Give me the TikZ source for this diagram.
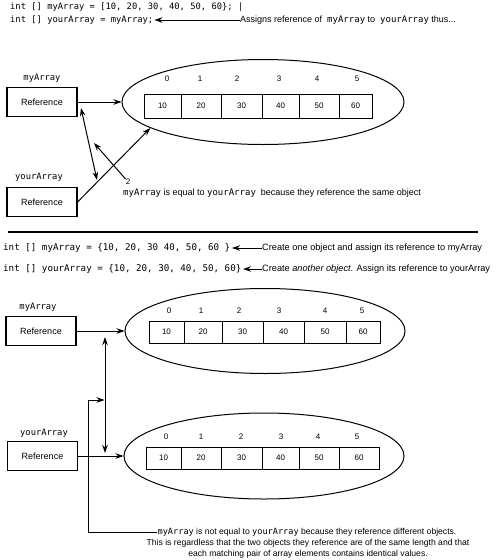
\documentclass[tikz,border=0pt]{standalone}
\usepackage{fontspec}
\setmainfont{Liberation Sans}
\setmonofont{DejaVu Sans Mono}
\usetikzlibrary{arrows.meta,shapes.geometric}
\begin{document}
\begin{tikzpicture}[x=1pt,y=-1pt,
  txt/.style={inner sep=0pt, text height=6.5pt, text depth=2pt},
  codetop/.style={txt, anchor=west, font=\ttfamily\fontsize{8.8}{11}\selectfont},
  code/.style={txt, anchor=west, font=\ttfamily\fontsize{9.2}{11}\selectfont},
  desc/.style={txt, anchor=west, font=\fontsize{9}{11}\selectfont},
  descb/.style={txt, anchor=west, font=\fontsize{9.2}{11}\selectfont},
  varname/.style={txt, font=\ttfamily\fontsize{8.8}{11}\selectfont},
  refbox/.style={draw, line width=1.2pt, minimum width=70pt, minimum height=29pt, inner sep=0pt, font=\fontsize{9}{11}\selectfont},
  cell/.style={draw, line width=1pt, inner sep=0pt, font=\fontsize{8}{10}\selectfont},
  idx/.style={inner sep=0pt, font=\fontsize{8}{10}\selectfont},
  obj/.style={ellipse, draw, line width=1pt, inner sep=0pt},
  arr/.style={line width=1pt, -{Stealth[length=8pt,width=5.5pt]}},
  darr/.style={line width=1pt, {Stealth[length=8pt,width=5.5pt]}-{Stealth[length=8pt,width=5.5pt]}},
]
\useasboundingbox (0,0) rectangle (500,560);

% ---------- top section ----------
\node[codetop] (code1) at (10,7) {int [] myArray = [10, 20, 30, 40, 50, 60\}; |};
\node[codetop] (code2) at (10,20) {int [] yourArray = myArray;};
\node[desc] (assign) at (240,20) {Assigns reference of~ \texttt{myArray} to~ \texttt{yourArray} thus...};
\draw[arr, shorten >=1pt] (assign.west) -- (code2.east);

\node[varname] (lab1) at (42,78) {myArray};
\node[refbox] (box1) at (42,102) {Reference};
\node[varname] (lab2) at (39,177) {yourArray};
\node[refbox] (box2) at (42,202) {Reference};

\node[obj, minimum width=282pt, minimum height=85pt] (ell1) at (263,102) {};
\node[cell, minimum width=37pt, minimum height=24pt] (a0) at (162.5,106) {10};
\node[cell, minimum width=40pt, minimum height=24pt] (a1) at (201,106) {20};
\node[cell, minimum width=41pt, minimum height=24pt] (a2) at (241.5,106) {30};
\node[cell, minimum width=37pt, minimum height=24pt] (a3) at (280.5,106) {40};
\node[cell, minimum width=40pt, minimum height=24pt] (a4) at (319,106) {50};
\node[cell, minimum width=33pt, minimum height=24pt] (a5) at (355.5,106) {60};
\node[idx] (ai0) at (167,79) {0};
\node[idx] (ai1) at (200,79) {1};
\node[idx] (ai2) at (237,79) {2};
\node[idx] (ai3) at (279,79) {3};
\node[idx] (ai4) at (317,79) {4};
\node[idx] (ai5) at (357,79) {5};

\draw[arr] (box1.east) -- (ell1.west);
\draw[arr] (box2.east) -- (ell1.193);
\coordinate (p1) at (81,108);
\coordinate (p2) at (97,180);
\draw[darr] (p1) -- (p2);
\node[idx] (two) at (128,182) {2};
\coordinate (p3) at (94,143);
\draw[arr] (two.north west) -- (p3);
\node[desc] (equal) at (123,193) {\texttt{myArray} is equal to \texttt{yourArray}~ because they reference the same object};

% ---------- separator ----------
\draw[line width=1.5pt] (8,232) -- (478,232);

% ---------- bottom section ----------
\node[code] (code3) at (3,248) {int [] myArray = \{10, 20, 30 40, 50, 60 \}};
\node[descb] (cr1) at (262,248) {Create one object and assign its reference to myArray};
\draw[arr, shorten >=1.5pt] (cr1.west) -- (code3.east);
\node[code] (code4) at (3,269) {int [] yourArray = \{10, 20, 30, 40, 50, 60\}};
\node[descb] (cr2) at (262,269) {Create \textit{another object}. Assign its reference to yourArray};
\draw[arr, shorten >=1.5pt] (cr2.west) -- (code4.east);

\node[varname] (lab3) at (38,307) {myArray};
\node[refbox] (box3) at (41,331) {Reference};
\node[varname] (lab4) at (44,433) {yourArray};
\node[refbox] (box4) at (42.5,456) {Reference};

\node[obj, minimum width=280pt, minimum height=85pt] (ell3) at (265,331) {};
\node[cell, minimum width=35pt, minimum height=22pt] (b0) at (166.5,332) {10};
\node[cell, minimum width=38pt, minimum height=22pt] (b1) at (203,332) {20};
\node[cell, minimum width=41pt, minimum height=22pt] (b2) at (242.5,332) {30};
\node[cell, minimum width=41pt, minimum height=22pt] (b3) at (283.5,332) {40};
\node[cell, minimum width=42pt, minimum height=22pt] (b4) at (325,332) {50};
\node[cell, minimum width=34pt, minimum height=22pt] (b5) at (363,332) {60};
\node[idx] (bi0) at (169,311) {0};
\node[idx] (bi1) at (201,311) {1};
\node[idx] (bi2) at (239,311) {2};
\node[idx] (bi3) at (279,311) {3};
\node[idx] (bi4) at (325,311) {4};
\node[idx] (bi5) at (362,311) {5};

\node[obj, minimum width=280pt, minimum height=86pt] (ell4) at (264,456) {};
\node[cell, minimum width=35pt, minimum height=22pt] (c0) at (163.5,458) {10};
\node[cell, minimum width=40pt, minimum height=22pt] (c1) at (201,458) {20};
\node[cell, minimum width=41pt, minimum height=22pt] (c2) at (241.5,458) {30};
\node[cell, minimum width=37pt, minimum height=22pt] (c3) at (280.5,458) {40};
\node[cell, minimum width=40pt, minimum height=22pt] (c4) at (319,458) {50};
\node[cell, minimum width=40pt, minimum height=22pt] (c5) at (359,458) {60};
\node[idx] (ci0) at (166,437) {0};
\node[idx] (ci1) at (201,437) {1};
\node[idx] (ci2) at (241,437) {2};
\node[idx] (ci3) at (281,437) {3};
\node[idx] (ci4) at (318,437) {4};
\node[idx] (ci5) at (357,437) {5};

\draw[arr] (box3.east) -- (ell3.west);
\draw[arr] (box4.east) -- (ell4.west);
\coordinate (vtop) at (105,337);
\coordinate (vbot) at (105,453);
\draw[darr] (vtop) -- (vbot);

\node[txt, font=\fontsize{8.6}{10.5}\selectfont] (t1) at (307,532) {\texttt{myArray} is not equal to \texttt{yourArray} because they reference different objects.};
\node[inner sep=0pt, anchor=north, align=center, font=\fontsize{8.6}{10.5}\selectfont] (t2) at (308,539.5) {This is regardless that the two objects they reference are of the same length and that\\ each matching pair of array elements contains identical values.};
\coordinate (hk) at (88,400);
\coordinate (hkend) at (104.5,400);
\draw[arr] (t1.west) -| (hk) -- (hkend);
\end{tikzpicture}
\end{document}
